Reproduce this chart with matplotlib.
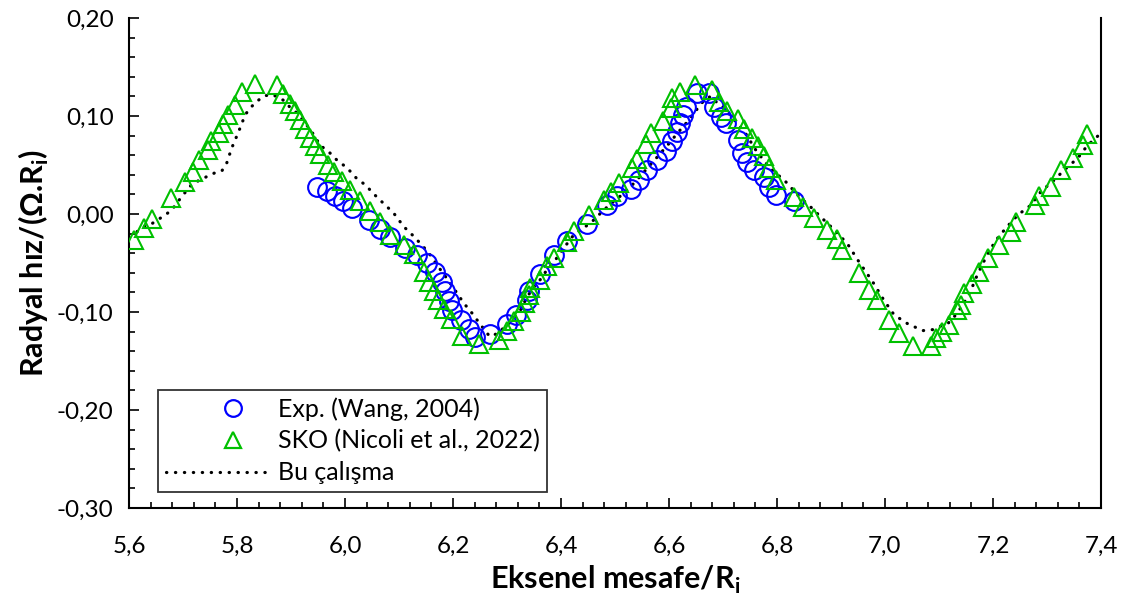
import matplotlib
matplotlib.use("Agg")
import matplotlib.pyplot as plt
from matplotlib.ticker import MultipleLocator, FuncFormatter
from matplotlib.lines import Line2D
from matplotlib.legend_handler import HandlerLine2D

# ---- data ----
exp_x = [5.948, 5.966, 5.982, 5.997, 6.013, 6.044, 6.065, 6.084, 6.112, 6.133,
         6.152, 6.167, 6.180, 6.186, 6.192, 6.198, 6.214, 6.229, 6.241, 6.269,
         6.300, 6.316, 6.337, 6.340, 6.362, 6.387, 6.411, 6.449, 6.486, 6.504,
         6.529, 6.544, 6.560, 6.578, 6.594, 6.606, 6.615, 6.621, 6.625, 6.631,
         6.652, 6.674, 6.683, 6.696, 6.705, 6.727, 6.736, 6.745, 6.757, 6.776,
         6.785, 6.798, 6.832]
exp_y = [0.028, 0.023, 0.018, 0.013, 0.006, -0.006, -0.015, -0.023, -0.035, -0.042,
         -0.050, -0.059, -0.069, -0.079, -0.089, -0.098, -0.108, -0.117, -0.125, -0.122,
         -0.112, -0.103, -0.088, -0.079, -0.061, -0.042, -0.028, -0.010, 0.009, 0.018,
         0.026, 0.035, 0.045, 0.055, 0.064, 0.074, 0.084, 0.093, 0.101, 0.109,
         0.123, 0.123, 0.109, 0.099, 0.093, 0.076, 0.062, 0.053, 0.045, 0.038,
         0.028, 0.019, 0.013]

sko_x = [5.609, 5.627, 5.642, 5.677, 5.703, 5.718, 5.730, 5.747, 5.751, 5.767,
         5.774, 5.784, 5.797, 5.809, 5.834, 5.874, 5.886, 5.898, 5.908, 5.917,
         5.926, 5.936, 5.945, 5.954, 5.969, 5.979, 5.995, 6.010, 6.028, 6.047,
         6.065, 6.084, 6.109, 6.127, 6.146, 6.155, 6.164, 6.173, 6.183, 6.196,
         6.217, 6.248, 6.285, 6.300, 6.313, 6.325, 6.334, 6.340, 6.343, 6.362,
         6.374, 6.387, 6.411, 6.424, 6.452, 6.479, 6.492, 6.507, 6.532, 6.541,
         6.557, 6.566, 6.588, 6.603, 6.606, 6.621, 6.649, 6.680, 6.692, 6.708,
         6.727, 6.739, 6.754, 6.764, 6.776, 6.786, 6.798, 6.832, 6.849, 6.869,
         6.893, 6.912, 6.921, 6.952, 6.971, 6.986, 7.008, 7.026, 7.051, 7.085,
         7.094, 7.106, 7.119, 7.134, 7.141, 7.147, 7.162, 7.174, 7.190, 7.212,
         7.233, 7.243, 7.277, 7.286, 7.308, 7.326, 7.348, 7.366, 7.375]
sko_y = [-0.027, -0.014, -0.005, 0.016, 0.033, 0.043, 0.055, 0.065, 0.074, 0.083,
         0.092, 0.101, 0.111, 0.124, 0.133, 0.132, 0.122, 0.112, 0.105, 0.096,
         0.087, 0.078, 0.069, 0.061, 0.050, 0.043, 0.034, 0.024, 0.013, 0.003,
         -0.008, -0.021, -0.032, -0.041, -0.059, -0.069, -0.079, -0.088, -0.097, -0.107,
         -0.124, -0.133, -0.129, -0.119, -0.109, -0.100, -0.091, -0.083, -0.076, -0.067,
         -0.053, -0.045, -0.029, -0.017, -0.001, 0.014, 0.022, 0.032, 0.047, 0.056,
         0.071, 0.083, 0.095, 0.108, 0.118, 0.124, 0.132, 0.127, 0.114, 0.105,
         0.097, 0.087, 0.078, 0.069, 0.059, 0.047, 0.035, 0.017, 0.007, -0.004,
         -0.016, -0.025, -0.037, -0.060, -0.078, -0.088, -0.108, -0.121, -0.135, -0.135,
         -0.127, -0.120, -0.113, -0.098, -0.093, -0.081, -0.071, -0.059, -0.045, -0.032,
         -0.018, -0.008, 0.009, 0.018, 0.028, 0.045, 0.057, 0.070, 0.082]

bu_x = [5.615, 5.627, 5.642, 5.667, 5.679, 5.698, 5.716, 5.732, 5.759, 5.772,
        5.781, 5.790, 5.803, 5.815, 5.824, 5.837, 5.849, 5.861, 5.874, 5.886,
        5.898, 5.911, 5.926, 5.942, 5.954, 5.969, 5.985, 6.004, 6.022, 6.037,
        6.056, 6.071, 6.090, 6.109, 6.124, 6.143, 6.158, 6.173, 6.189, 6.204,
        6.220, 6.235, 6.251, 6.268, 6.282, 6.303, 6.325, 6.334, 6.347, 6.359,
        6.374, 6.387, 6.402, 6.424, 6.445, 6.461, 6.479, 6.498, 6.516, 6.538,
        6.557, 6.578, 6.597, 6.618, 6.637, 6.656, 6.665, 6.677, 6.686, 6.699,
        6.721, 6.742, 6.761, 6.785, 6.816, 6.844, 6.859, 6.881, 6.900, 6.930,
        6.952, 6.977, 6.998, 7.017, 7.042, 7.070, 7.088, 7.100, 7.116, 7.128,
        7.144, 7.159, 7.171, 7.187, 7.205, 7.226, 7.246, 7.270, 7.289, 7.314,
        7.332, 7.357, 7.375, 7.397]
bu_y = [-0.018, -0.013, -0.010, -0.001, 0.004, 0.018, 0.030, 0.035, 0.042, 0.044,
        0.052, 0.067, 0.084, 0.101, 0.108, 0.115, 0.120, 0.122, 0.120, 0.116,
        0.109, 0.103, 0.093, 0.081, 0.070, 0.064, 0.055, 0.047, 0.036, 0.030,
        0.019, 0.011, 0.001, -0.013, -0.021, -0.032, -0.042, -0.054, -0.066, -0.078,
        -0.091, -0.101, -0.113, -0.125, -0.122, -0.112, -0.098, -0.088, -0.076, -0.069,
        -0.057, -0.049, -0.037, -0.021, -0.013, -0.006, 0.004, 0.013, 0.021, 0.033,
        0.045, 0.058, 0.070, 0.084, 0.096, 0.110, 0.116, 0.120, 0.115, 0.110,
        0.096, 0.082, 0.065, 0.048, 0.033, 0.016, 0.009, -0.003, -0.013, -0.030,
        -0.049, -0.069, -0.088, -0.103, -0.112, -0.119, -0.118, -0.115, -0.112, -0.105,
        -0.093, -0.078, -0.062, -0.044, -0.027, -0.013, -0.001, 0.009, 0.023, 0.035,
        0.045, 0.057, 0.070, 0.081]

labels = ["Exp. (Wang, 2004)", "SKO (Nicoli et al., 2022)", "Bu çalışma"]

plt.rcParams['font.family'] = ['Lato', 'DejaVu Sans']
plt.rcParams['mathtext.fontset'] = 'custom'
plt.rcParams['mathtext.rm'] = 'Lato'
plt.rcParams['mathtext.bf'] = 'Lato:bold'

BLUE = '#0000FF'
GREEN = '#00C000'
DOTS = (0, (0.1, 2.7))


class ShiftedMarker(HandlerLine2D):
    """Draw the single legend marker at ~65% of the handle width (Excel style)."""
    def get_xdata(self, legend, xdescent, ydescent, width, height, fontsize):
        c = 0.64 * width - xdescent
        return [c - 0.5, c + 0.5], [c]


fig = plt.figure(figsize=(11.22, 5.95), dpi=100)
ax = fig.add_axes([129/1122, 1 - 508/595, (1101 - 129)/1122, (508 - 18)/595])

ax.plot(bu_x, bu_y, color='black', lw=2.3, linestyle=DOTS,
        dash_capstyle='round', zorder=2)
ax.plot(exp_x, exp_y, linestyle='none', marker='o', ms=13.5, mfc='none',
        mec=BLUE, mew=1.5, zorder=3)
ax.plot(sko_x, sko_y, linestyle='none', marker='^', ms=13.5, mfc='none',
        mec=GREEN, mew=1.5, zorder=4)

ax.set_xlim(5.6, 7.4)
ax.set_ylim(-0.30, 0.20)
ax.xaxis.set_major_locator(MultipleLocator(0.2))
ax.xaxis.set_minor_locator(MultipleLocator(0.04))
ax.yaxis.set_major_locator(MultipleLocator(0.1))
ax.yaxis.set_minor_locator(MultipleLocator(0.02))
ax.xaxis.set_major_formatter(FuncFormatter(lambda v, p: f"{v:.1f}".replace('.', ',')))
ax.yaxis.set_major_formatter(FuncFormatter(lambda v, p: f"{v:.2f}".replace('.', ',').replace('-0,00', '0,00')))
ax.tick_params(which='both', direction='in', labelsize=17.5, width=1.2, color='black')
ax.tick_params(which='major', length=7)
ax.tick_params(which='minor', length=4)
ax.tick_params(axis='x', pad=20)
ax.tick_params(axis='y', pad=11)

for s in ['left', 'bottom', 'right']:
    ax.spines[s].set_linewidth(1.5)
    ax.spines[s].set_color('black')
ax.spines['top'].set_visible(False)

ax.set_xlabel(r"Eksenel mesafe/R$_\mathbf{i}$", fontsize=22, fontweight='bold', labelpad=5)
ax.set_ylabel(r"Radyal hız/(Ω.R$_\mathbf{i}$)", fontsize=22, fontweight='bold', labelpad=4)

h_exp = Line2D([], [], linestyle='none', marker='o', ms=12, mfc='none', mec=BLUE, mew=1.6)
h_sko = Line2D([], [], linestyle='none', marker='^', ms=12, mfc='none', mec=GREEN, mew=1.6)
h_bu = Line2D([], [], color='black', lw=2.3, linestyle=DOTS, dash_capstyle='round')
leg = ax.legend([h_exp, h_sko, h_bu], labels, loc='lower left',
                bbox_to_anchor=(29/972, 16/490),
                fontsize=18, frameon=True, fancybox=False, edgecolor='black',
                handlelength=4.2, handletextpad=0.3, borderpad=0.3, labelspacing=0.35,
                borderaxespad=0, numpoints=1,
                handler_map={h_exp: ShiftedMarker(), h_sko: ShiftedMarker()})
leg.get_frame().set_linewidth(1.3)

fig.savefig("out.png", dpi=100)
